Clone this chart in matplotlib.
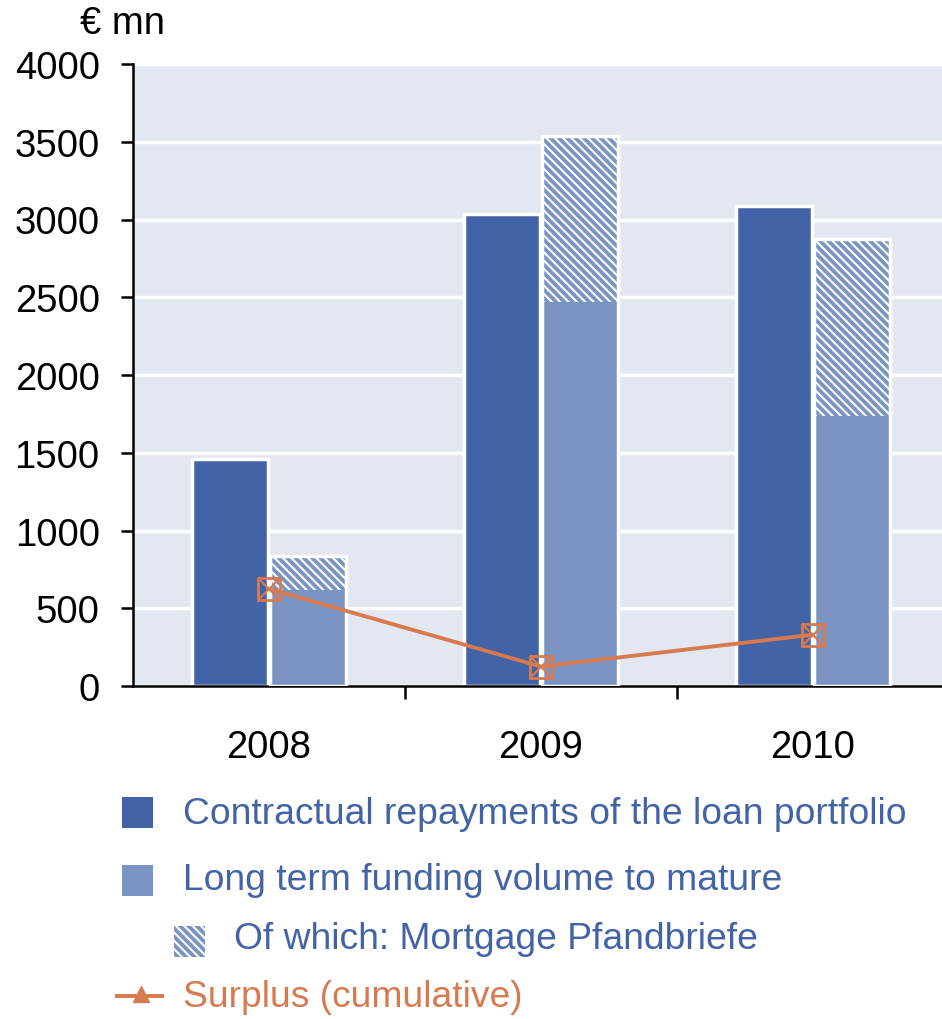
import matplotlib
matplotlib.use("Agg")
import matplotlib.pyplot as plt
from matplotlib.patches import Rectangle
from matplotlib.lines import Line2D
import numpy as np

plt.rcParams['font.family'] = ['Liberation Sans', 'DejaVu Sans']
plt.rcParams['hatch.linewidth'] = 1.5

# Werte in Mio. EUR
jahre = ['2008', '2009', '2010']
tilgungen = [1460, 3035, 3085]          # vertragliche Tilgungen Darlehensbestand
refinanzierung = [836, 3535, 2875]      # fällig werdende langfristige Refinanzierung
davon_pfandbriefe = [216, 1065, 1137]   # davon Hypothekenpfandbriefe
ueberschuss = [625, 125, 330]           # Überschuss kumuliert

DUNKEL = '#4263a6'
HELL = '#7a94c4'
HINTERGRUND = '#e3e7f0'
ORANGE = '#d87a50'
SCHRAFFUR = '\\' * 4

W, H = 942, 1020
fig = plt.figure(figsize=(W / 100, H / 100), dpi=100)

def fx(x):
    return x / W

def fy(y):
    return 1 - y / H

ax = fig.add_axes([fx(133), fy(687), fx(949 - 133), (687 - 65) / H])
ax.set_facecolor(HINTERGRUND)

x = np.arange(len(jahre))
breite = 0.28
basis = np.array(refinanzierung) - np.array(davon_pfandbriefe)

ax.bar(x - 0.143, tilgungen, breite, color=DUNKEL, edgecolor='white', linewidth=2.5, zorder=2)
ax.bar(x + 0.143, basis, breite, color=HELL, edgecolor=HELL, linewidth=0, zorder=2)
ax.bar(x + 0.143, davon_pfandbriefe, breite, bottom=basis, color=HELL, edgecolor='white',
       linewidth=0, hatch=SCHRAFFUR, zorder=2)
# weiße Umrandung über den gesamten Balken
ax.bar(x + 0.143, refinanzierung, breite, fill=False, edgecolor='white', linewidth=2.5, zorder=3)

ax.plot(x, ueberschuss, color=ORANGE, lw=2.8, zorder=4)
ax.plot(x, ueberschuss, ls='none', marker='s', ms=16, mfc='none', mec=ORANGE, mew=2, zorder=5)
ax.plot(x, ueberschuss, ls='none', marker='x', ms=16, mec=ORANGE, mew=1.5, zorder=5)

ax.set_xlim(-0.5, 2.5)
ax.set_ylim(0, 4000)
ax.set_yticks(range(0, 4001, 500))
ax.yaxis.grid(True, color='white', lw=2.5)
ax.set_axisbelow(True)
for s in ['top', 'right']:
    ax.spines[s].set_visible(False)
ax.spines['left'].set_linewidth(1.8)
ax.spines['bottom'].set_linewidth(1.8)
ax.tick_params(axis='y', direction='out', length=9, width=1.8, pad=15, labelsize=27.5)
ax.set_xticks(x)
ax.set_xticklabels(jahre)
ax.tick_params(axis='x', length=0, pad=31, labelsize=27.5)
ax.set_xticks([0.5, 1.5], minor=True)
ax.tick_params(axis='x', which='minor', direction='out', length=9, width=1.8)

fig.text(fx(80), fy(24), '€ mn', fontsize=27.5, va='center', ha='left')

# Legende
def kasten(x0, y0, farbe, hatch=None):
    r = Rectangle((fx(x0), fy(y0 + 31)), fx(31), 31 / H, transform=fig.transFigure,
                  facecolor=farbe, edgecolor='white' if hatch else farbe, lw=0, hatch=hatch)
    fig.add_artist(r)

kasten(122, 798, DUNKEL)
fig.text(fx(183), fy(815), 'Contractual repayments of the loan portfolio', fontsize=26.8,
         color=DUNKEL, va='center')
kasten(122, 866, HELL)
fig.text(fx(183), fy(880), 'Long term funding volume to mature', fontsize=26.8,
         color=DUNKEL, va='center')
kasten(174, 927, HELL, hatch=SCHRAFFUR)
fig.text(fx(234), fy(940), 'Of which: Mortgage Pfandbriefe', fontsize=26.8,
         color=DUNKEL, va='center')
fig.add_artist(Line2D([fx(117), fx(162)], [fy(997), fy(997)], transform=fig.transFigure,
                      color=ORANGE, lw=2.8))
fig.add_artist(Line2D([fx(141)], [fy(995)], transform=fig.transFigure, marker='^', ms=12,
                      color=ORANGE, ls='none'))
fig.text(fx(183), fy(998), 'Surplus (cumulative)', fontsize=26.8, color=ORANGE, va='center')

fig.savefig('out.png', dpi=100)
